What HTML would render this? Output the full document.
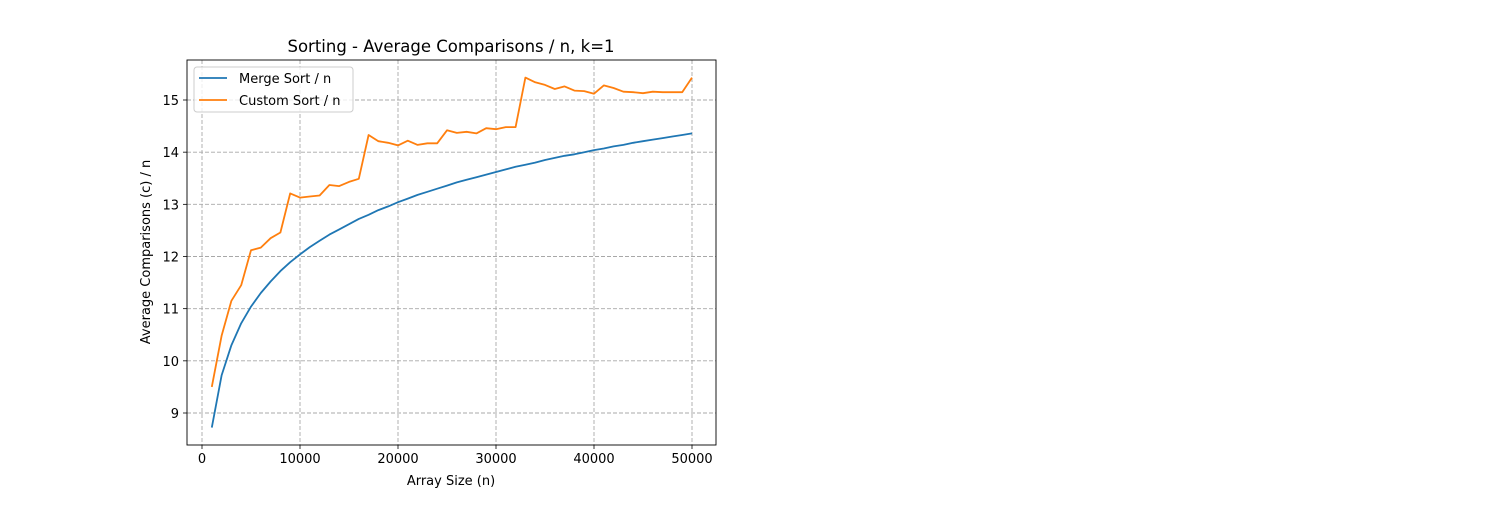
<!DOCTYPE html>
<html><head><meta charset="utf-8"><style>
body{margin:0;background:#fff;font-family:"Liberation Sans","DejaVu Sans",sans-serif}
svg text{font-family:"DejaVu Sans","Liberation Sans",sans-serif}
</style></head><body>
<svg id="chart" width="1500" height="500" xmlns="http://www.w3.org/2000/svg">
<rect width="1500" height="500" fill="#fff"/>
<g id="grid"></g><g id="lines"></g><g id="axes"></g>
</svg>
<script>
const sizes=[1000,2000,3000,4000,5000,6000,7000,8000,9000,10000,11000,12000,13000,14000,15000,16000,17000,18000,19000,20000,21000,22000,23000,24000,25000,26000,27000,28000,29000,30000,31000,32000,33000,34000,35000,36000,37000,38000,39000,40000,41000,42000,43000,44000,45000,46000,47000,48000,49000,50000];
const mergeVals=[8.72,9.72,10.30,10.72,11.04,11.30,11.52,11.72,11.89,12.04,12.18,12.30,12.42,12.52,12.62,12.72,12.80,12.89,12.96,13.04,13.11,13.18,13.24,13.30,13.36,13.42,13.47,13.52,13.57,13.62,13.67,13.72,13.76,13.80,13.85,13.89,13.93,13.96,14.00,14.04,14.07,14.11,14.14,14.18,14.21,14.24,14.27,14.30,14.33,14.36];
const customVals=[9.50,10.48,11.15,11.45,12.12,12.17,12.35,12.46,13.21,13.13,13.15,13.17,13.37,13.35,13.43,13.49,14.33,14.21,14.18,14.13,14.22,14.14,14.17,14.17,14.42,14.37,14.39,14.36,14.46,14.44,14.48,14.48,15.43,15.34,15.29,15.21,15.26,15.18,15.17,15.12,15.28,15.23,15.16,15.15,15.13,15.16,15.15,15.15,15.15,15.43];
const xTicks=[0,10000,20000,30000,40000,50000];
const yTicks=[9,10,11,12,13,14,15];
const L=187,R=716,T=60,B=445;
const xs=v=>202+(v/50000)*490;
const ys=v=>413-(v-9)*(313/6);
const NS="http://www.w3.org/2000/svg";
function mk(tag,attrs,parent,txt){const e=document.createElementNS(NS,tag);for(const k in attrs)e.setAttribute(k,attrs[k]);if(txt!==undefined)e.textContent=txt;parent.appendChild(e);return e;}
const grid=document.getElementById('grid'),lines=document.getElementById('lines'),axes=document.getElementById('axes');
xTicks.forEach(t=>{const x=xs(t);
 const g=mk('line',{x1:x,x2:x,y1:T,y2:B,stroke:'#a8a8a8','stroke-width':0.9,'stroke-dasharray':'4,2'},grid);
 
 
 mk('line',{x1:x,x2:x,y1:B,y2:B+4,stroke:'#000','stroke-width':0.8},axes);
 const tx=mk('text',{x:x,y:B+18,'text-anchor':'middle','font-size':13,fill:'#000'},axes,String(t));
 
 
});
yTicks.forEach(t=>{const y=ys(t);
 const g=mk('line',{x1:L,x2:R,y1:y,y2:y,stroke:'#a8a8a8','stroke-width':0.9,'stroke-dasharray':'4,2'},grid);
 
 
 mk('line',{x1:L-4,x2:L,y1:y,y2:y,stroke:'#000','stroke-width':0.8},axes);
 const tx=mk('text',{x:L-8,y:y+5,'text-anchor':'end','font-size':13,fill:'#000'},axes,String(t));
 
 
});
function series(vals,color,name){
 const d=vals.map((v,i)=>(i?'L':'M')+xs(sizes[i]).toFixed(1)+','+ys(v).toFixed(1)).join('');
 const p=mk('path',{d:d,fill:'none',stroke:color,'stroke-width':1.8,'stroke-linejoin':'round'},lines);
 
 
}
series(mergeVals,'#1f77b4','merge-sort-line');
series(customVals,'#ff7f0e','custom-sort-line');
const frame=mk('rect',{x:L,y:T,width:R-L,height:B-T,fill:'none',stroke:'#000','stroke-width':0.9},axes);


const title=mk('text',{x:451,y:52,'text-anchor':'middle','font-size':16.5,fill:'#000'},axes,'Sorting - Average Comparisons / n, k=1');


const xl=mk('text',{x:451,y:485,'text-anchor':'middle','font-size':13,fill:'#000'},axes,'Array Size (n)');


const yl=mk('text',{x:150,y:252,'text-anchor':'middle','font-size':13,fill:'#000',transform:'rotate(-90 150 252)'},axes,'Average Comparisons (c) / n');


const lg=mk('g',{},axes);


mk('rect',{x:194,y:67,width:159,height:45,rx:3,fill:'#fff','fill-opacity':0.8,stroke:'#ccc','stroke-width':1},lg);
const e1=mk('g',{},lg);


mk('line',{x1:199,x2:227,y1:78,y2:78,stroke:'#1f77b4','stroke-width':1.8},e1);
mk('text',{x:239,y:83,'font-size':13,fill:'#000'},e1,'Merge Sort / n');
const e2=mk('g',{},lg);


mk('line',{x1:199,x2:227,y1:100,y2:100,stroke:'#ff7f0e','stroke-width':1.8},e2);
mk('text',{x:239,y:105,'font-size':13,fill:'#000'},e2,'Custom Sort / n');
</script>
</body></html>
